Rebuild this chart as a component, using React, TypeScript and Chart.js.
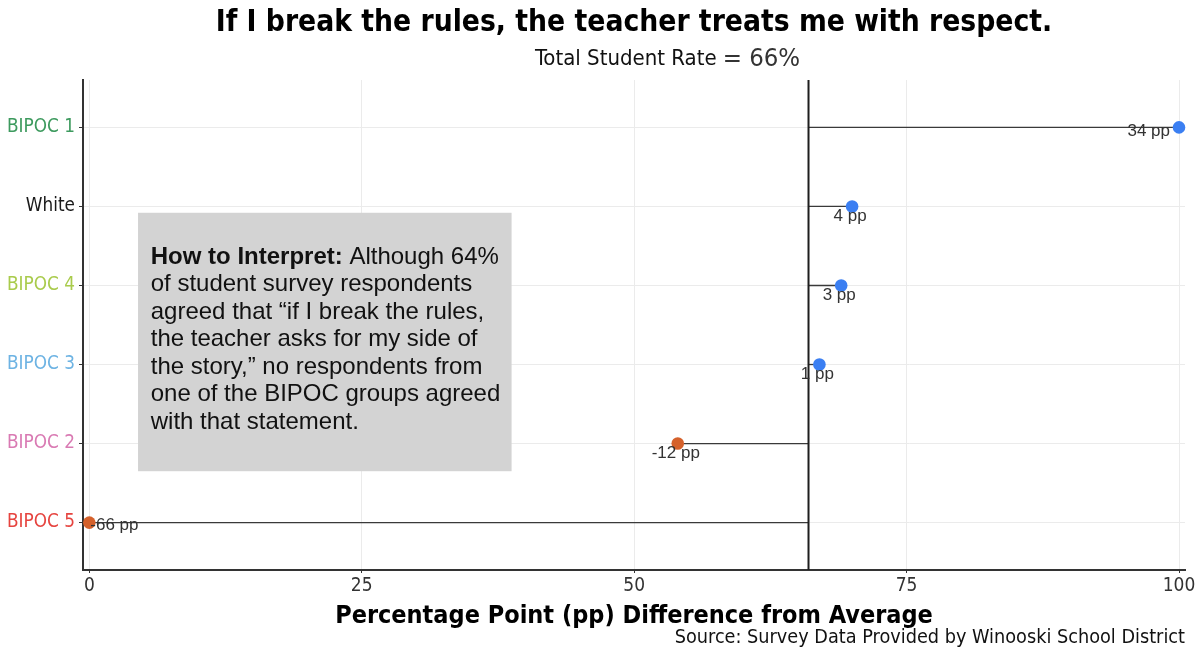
import React, { useEffect, useRef } from 'react';
import { Chart, registerables } from 'chart.js';

Chart.register(...registerables);

// ---------- data ----------
const categories = ['BIPOC 1', 'White', 'BIPOC 4', 'BIPOC 3', 'BIPOC 2', 'BIPOC 5'];
const groupRates = [100, 70, 69, 67, 54, 0];
const averageRate = 66;
const xTickValues = [0, 25, 50, 75, 100];
const categoryColors = ['#3d9a5e', '#1a1a1a', '#a9cb4c', '#6db3e3', '#d97ab3', '#e6443f'];

const titleText = 'If I break the rules, the teacher treats me with respect.';
const subtitlePrefix = 'Total Student Rate';
const subtitleValue = '= 66%';
const xTitleText = 'Percentage Point (pp) Difference from Average';
const sourceText = 'Source: Survey Data Provided by Winooski School District';
const noteBold = 'How to Interpret:';
const noteLines = [
  ' Although 64%',
  'of student survey respondents',
  'agreed that \u201cif I break the rules,',
  'the teacher asks for my side of',
  'the story,\u201d no respondents from',
  'one of the BIPOC groups agreed',
  'with that statement.',
];

// ---------- styles ----------
const FONT = "'DejaVu Sans Condensed', 'DejaVu Sans', sans-serif";
const ARIAL = "'Liberation Sans', Arial, sans-serif";
const ABOVE_COLOR = '#3b7ff2';
const BELOW_COLOR = '#d5612b';

const overlayPlugin = {
  id: 'overlay',
  afterDatasetsDraw(chart: any) {
    const { ctx, chartArea, scales } = chart;
    const xs = scales.x;
    const ys = scales.y;
    ctx.save();

    // annotation box (anchored to data coordinates)
    const bx0 = xs.getPixelForValue(4.47);
    const bx1 = xs.getPixelForValue(38.75);
    const by0 = ys.getPixelForValue(1.08);
    const by1 = ys.getPixelForValue(4.35);
    ctx.fillStyle = '#d3d3d3';
    ctx.fillRect(bx0, by0, bx1 - bx0, by1 - by0);
    ctx.fillStyle = '#111';
    ctx.textBaseline = 'alphabetic';
    ctx.textAlign = 'left';
    const tx = bx0 + 12.7;
    let ty = by0 + 51;
    ctx.font = `bold 24px ${ARIAL}`;
    ctx.fillText(noteBold, tx, ty);
    const bw = ctx.measureText(noteBold).width;
    ctx.font = `24px ${ARIAL}`;
    ctx.fillText(noteLines[0], tx + bw, ty);
    for (let i = 1; i < noteLines.length; i++) {
      ty += 27.5;
      ctx.fillText(noteLines[i], tx, ty);
    }

    // point labels
    ctx.font = `17px ${ARIAL}`;
    ctx.fillStyle = '#333';
    ctx.textBaseline = 'middle';
    groupRates.forEach((v, i) => {
      const px = xs.getPixelForValue(v);
      const py = ys.getPixelForValue(i);
      const label = `${v - averageRate} pp`;
      const w = ctx.measureText(label).width;
      let x = px - 2;
      let y = py + 10;
      ctx.textAlign = 'center';
      if (x + w / 2 > chartArea.right) {
        ctx.textAlign = 'right';
        x = px - 9;
        y = py + 4;
      } else if (x - w / 2 < chartArea.left) {
        ctx.textAlign = 'left';
        x = px + 1;
        y = py + 3;
      }
      ctx.fillText(label, x, y);
    });
    ctx.restore();
  },
  afterDraw(chart: any) {
    const { ctx, chartArea } = chart;
    const cx = (chartArea.left + chartArea.right) / 2;
    ctx.save();
    ctx.textBaseline = 'middle';
    ctx.fillStyle = '#000';
    ctx.textAlign = 'center';
    ctx.font = `bold 29.7px ${FONT}`;
    ctx.fillText(titleText, cx, 23);

    // subtitle
    ctx.textAlign = 'left';
    ctx.fillStyle = '#111';
    ctx.font = `22px ${FONT}`;
    const sx = cx - 99;
    ctx.fillText(subtitlePrefix, sx, 59);
    const pw = ctx.measureText(subtitlePrefix).width;
    ctx.font = `25.5px ${FONT}`;
    ctx.fillStyle = '#333';
    ctx.fillText(subtitleValue, sx + pw + 6, 59);

    // x title
    ctx.textAlign = 'center';
    ctx.fillStyle = '#000';
    ctx.font = `bold 25px ${FONT}`;
    ctx.fillText(xTitleText, cx, 616);

    // source
    ctx.textAlign = 'right';
    ctx.fillStyle = '#111';
    ctx.font = `19.7px ${FONT}`;
    ctx.fillText(sourceText, chartArea.right, 638);
    ctx.restore();
  },
};

export default function App() {
  const canvasRef = useRef<HTMLCanvasElement | null>(null);

  useEffect(() => {
    if (!canvasRef.current) return;
    const segmentSets = categories.map((c, i) => ({
      type: 'line' as const,
      label: c,
      data: [
        { x: averageRate, y: i },
        { x: groupRates[i], y: i },
      ],
      borderColor: '#3a3a3a',
      borderWidth: 1.3,
      pointRadius: 0,
      order: 3,
      clip: false as any,
    }));
    const chart = new Chart(canvasRef.current, {
      type: 'scatter',
      data: {
        datasets: [
          ...segmentSets,
          {
            type: 'line',
            label: 'average',
            data: [
              { x: averageRate, y: -0.6 },
              { x: averageRate, y: 5.6 },
            ],
            borderColor: '#1e1e1e',
            borderWidth: 2,
            pointRadius: 0,
            order: 2,
          },
          {
            type: 'scatter',
            label: 'groups',
            data: groupRates.map((v, i) => ({ x: v, y: i })),
            backgroundColor: groupRates.map((v) => (v >= averageRate ? ABOVE_COLOR : BELOW_COLOR)),
            borderWidth: 0,
            pointRadius: 6.3,
            order: 1,
            clip: false as any,
          },
        ] as any,
      },
      options: {
        responsive: false,
        animation: false,
        layout: { padding: { left: 0, right: 13, top: 80, bottom: 0 } },
        plugins: {
          legend: { display: false },
          tooltip: { enabled: false },
          title: { display: false },
        },
        scales: {
          x: {
            type: 'linear',
            min: -0.58,
            max: 100.55,
            afterBuildTicks: (s: any) => {
              s.ticks = xTickValues.map((v) => ({ value: v }));
            },
            afterFit: (s: any) => {
              s.height = 84;
            },
            grid: { color: '#ebebeb', lineWidth: 1, tickColor: '#333', tickLength: 3 },
            border: { color: '#333', width: 2 },
            ticks: {
              color: '#333',
              font: { family: FONT, size: 19 },
              padding: 1.5,
              maxRotation: 0,
              callback: (v: any) => String(v),
            },
          },
          y: {
            type: 'linear',
            reverse: true,
            min: -0.6,
            max: 5.6,
            afterBuildTicks: (s: any) => {
              s.ticks = categories.map((_, i) => ({ value: i }));
            },
            afterFit: (s: any) => {
              s.width = 83;
            },
            grid: { color: '#ebebeb', lineWidth: 1, tickColor: '#333', tickLength: 4 },
            border: { color: '#333', width: 2 },
            ticks: {
              padding: 4,
              font: { family: FONT, size: 18.8 },
              color: (c: any) => categoryColors[c.tick ? c.tick.value : c.index] || '#333',
              callback: (v: any) => categories[v] ?? '',
            },
          },
        },
      },
      plugins: [overlayPlugin],
    });
    return () => chart.destroy();
  }, []);

  return (
    <div style={{ position: 'fixed', left: 0, top: 0, width: 1198, height: 654, background: '#fff' }}>
      <canvas ref={canvasRef} width={1198} height={654} />
    </div>
  );
}
